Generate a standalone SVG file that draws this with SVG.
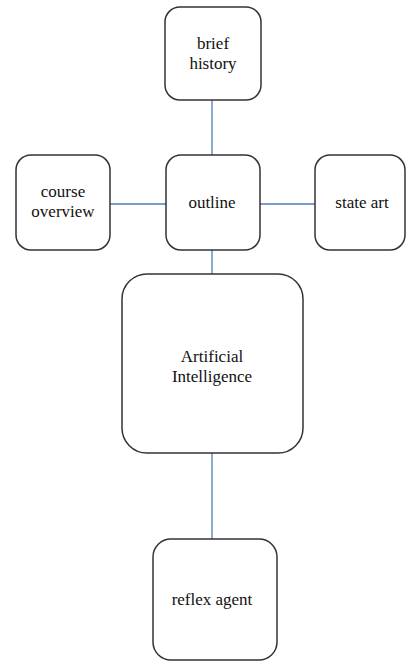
<svg xmlns="http://www.w3.org/2000/svg" width="406" height="662" viewBox="0 0 406 662">
<style>
.box{fill:#fff;stroke:#333;stroke-width:1.5}
.lbl{font-family:'Liberation Serif','DejaVu Serif','Times New Roman',serif;font-size:17px;fill:#111;text-anchor:middle}
.con{stroke:#4a7ebb;stroke-width:1.3;fill:none}
</style>
<rect width="406" height="662" fill="#fff"/>
<g id="connectors">
<line class="con" x1="212" y1="100" x2="212" y2="155"/>
<line class="con" x1="110" y1="204" x2="166" y2="204"/>
<line class="con" x1="260" y1="204" x2="315" y2="204"/>
<line class="con" x1="212" y1="250" x2="212" y2="274"/>
<line class="con" x1="212" y1="453" x2="212" y2="539"/>
</g>
<g id="brief-history">
<rect class="box" x="165" y="7" width="96" height="93" rx="15"/>
<text class="lbl" x="213" y="49">brief</text>
<text class="lbl" x="213" y="69">history</text>
</g>
<g id="course-overview">
<rect class="box" x="16" y="155" width="94" height="95" rx="15"/>
<text class="lbl" x="63" y="197">course</text>
<text class="lbl" x="63" y="217">overview</text>
</g>
<g id="outline">
<rect class="box" x="166" y="155" width="94" height="95" rx="15"/>
<text class="lbl" x="212" y="208">outline</text>
</g>
<g id="state-art">
<rect class="box" x="315" y="155" width="90" height="95" rx="15"/>
<text class="lbl" x="362" y="208">state art</text>
</g>
<g id="artificial-intelligence">
<rect class="box" x="122" y="274" width="181" height="179" rx="25"/>
<text class="lbl" x="212" y="362">Artificial</text>
<text class="lbl" x="212" y="382">Intelligence</text>
</g>
<g id="reflex-agent">
<rect class="box" x="153" y="539" width="124" height="121" rx="18"/>
<text class="lbl" x="212" y="605">reflex agent</text>
</g>
</svg>
